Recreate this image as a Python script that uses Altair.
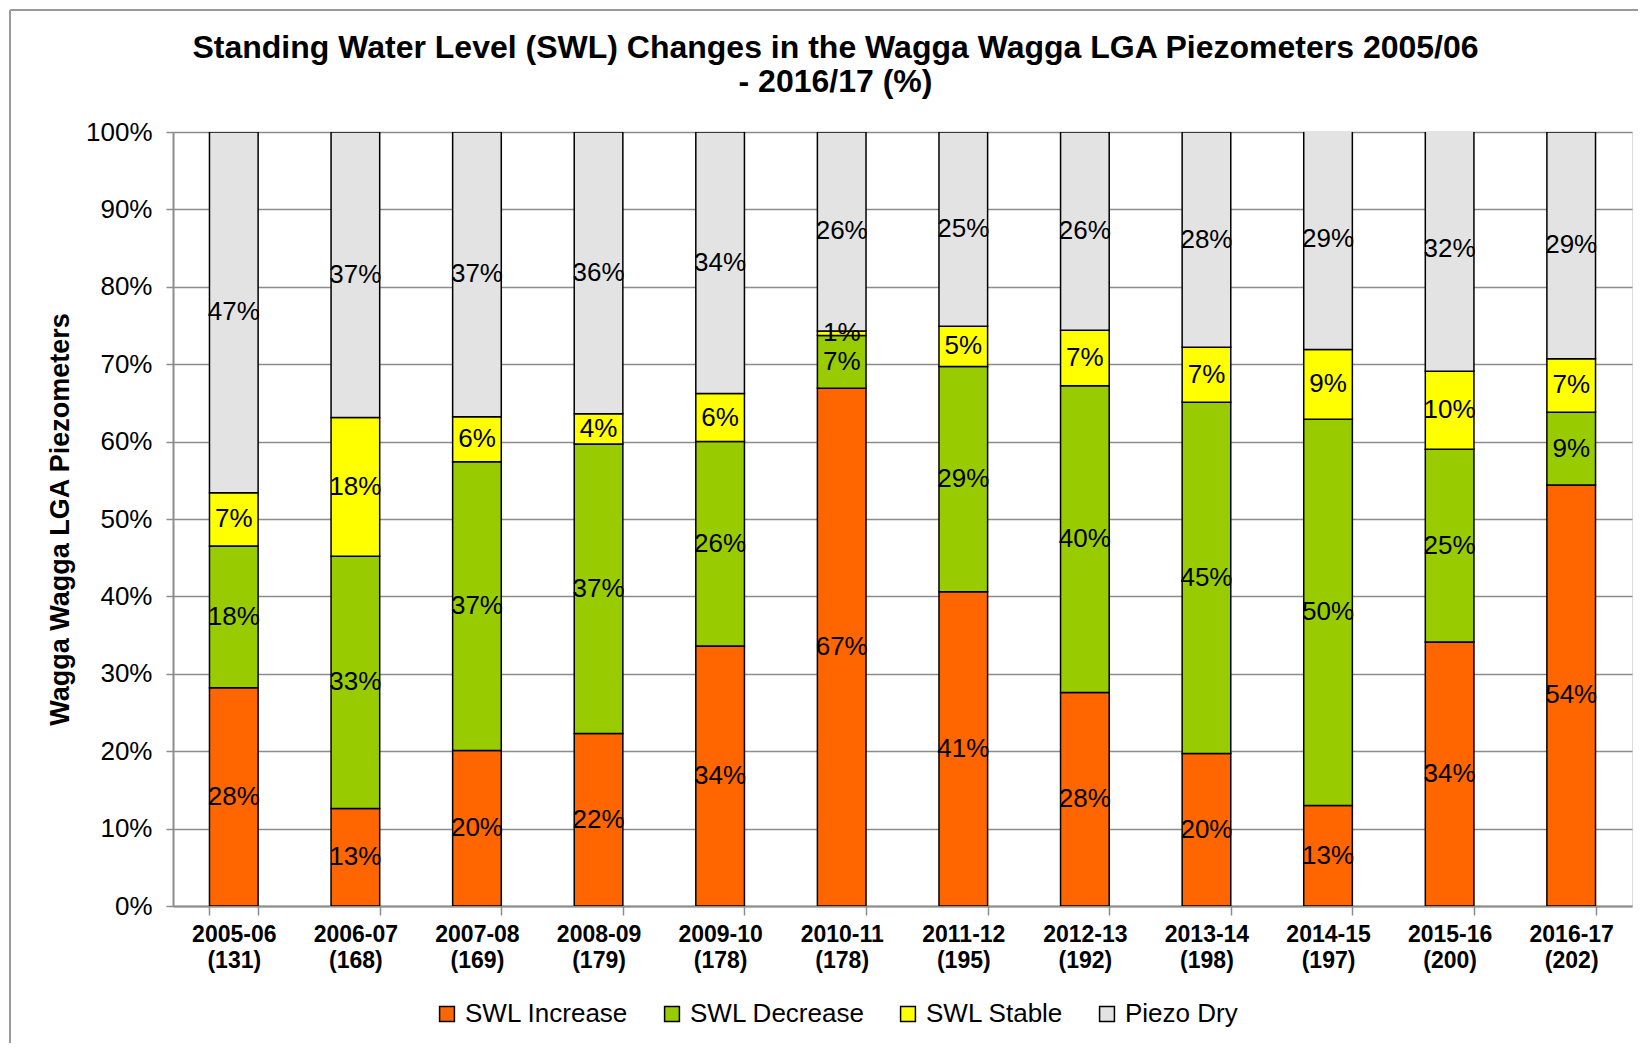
import altair as alt
import pandas as pd

cats = ["2005-06", "2006-07", "2007-08", "2008-09", "2009-10", "2010-11",
        "2011-12", "2012-13", "2013-14", "2014-15", "2015-16", "2016-17"]
counts = [131, 168, 169, 179, 178, 178, 195, 192, 198, 197, 200, 202]

series = ["SWL Increase", "SWL Decrease", "SWL Stable", "Piezo Dry"]
colors = ["#FF6600", "#99CC00", "#FFFF00", "#E3E3E3"]

swl_increase = [28.2, 12.6, 20.1, 22.3, 33.6, 66.9, 40.6, 27.6, 19.7, 13.0, 34.1, 54.4]
swl_decrease = [18.3, 32.6, 37.3, 37.4, 26.4, 6.8, 29.1, 39.6, 45.4, 49.9, 24.9, 9.4]
swl_stable = [6.9, 17.9, 5.8, 3.9, 6.2, 0.6, 5.2, 7.2, 7.1, 9.0, 10.1, 6.9]
piezo_dry = [46.6, 36.9, 36.8, 36.4, 33.8, 25.7, 25.1, 25.6, 27.8, 28.6, 31.6, 29.3]

vals = [swl_increase, swl_decrease, swl_stable, piezo_dry]
labels = [f"{c} ({n})" for c, n in zip(cats, counts)]

rows = []
for si, s in enumerate(series):
    for ci, lab in enumerate(labels):
        rows.append({"cat": lab, "series": s, "ord": si, "value": vals[si][ci]})
df = pd.DataFrame(rows)

FONT = "Liberation Sans"
W, H = 1459, 774

base = alt.Chart(df).transform_stack(
    stack="value", groupby=["cat"], as_=["y0", "y1"],
    sort=[alt.SortField("ord", order="ascending")]
).transform_calculate(
    mid="(datum.y0 + datum.y1) / 2",
    lbl="format(datum.value, '.0f') + '%'"
)

xenc = alt.X("cat:N", sort=labels,
             scale=alt.Scale(paddingInner=0.6, paddingOuter=0.3),
             axis=alt.Axis(title=None, labelAngle=0, labelFont=FONT, labelFontSize=23,
                           labelFontWeight="bold", labelColor="black",
                           labelExpr="split(datum.label, ' ')", labelLineHeight=26,
                           labelPadding=8, tickBand="extent", tickColor="#8c8c8c",
                           tickSize=9, tickWidth=1.5, domainColor="#8c8c8c",
                           domainWidth=2, grid=False))

yscale = alt.Scale(domain=[0, 100], nice=False)

bars = base.mark_bar(stroke="black", strokeWidth=1.5, clip=True).encode(
    x=xenc,
    y=alt.Y("y0:Q", scale=yscale,
            axis=alt.Axis(title="Wagga Wagga LGA Piezometers", values=list(range(0, 101, 10)),
                          labelExpr="datum.value + '%'", labelFont=FONT, labelFontSize=26,
                          labelColor="black", labelPadding=14, tickSize=7,
                          tickColor="#8c8c8c", tickWidth=1.5, domainColor="#8c8c8c",
                          domainWidth=2, gridColor="#8c8c8c", gridWidth=1.5,
                          titleFont=FONT, titleFontSize=27, titleFontWeight="bold",
                          titleColor="black", titlePadding=11)),
    y2="y1:Q",
    color=alt.Color("series:N", scale=alt.Scale(domain=series, range=colors),
                    legend=alt.Legend(title=None, orient="none", direction="horizontal",
                                      legendX=261, legendY=869, symbolType="square",
                                      symbolSize=220, symbolStrokeColor="black",
                                      symbolStrokeWidth=1.5, symbolOpacity=1,
                                      labelFont=FONT, labelFontSize=26, labelColor="black",
                                      labelLimit=400, columnPadding=30, labelOffset=5)),
    order=alt.Order("ord:Q"),
)

text = base.mark_text(font=FONT, fontSize=26, color="black", baseline="middle",
                      align="center").encode(
    x=alt.X("cat:N", sort=labels),
    y=alt.Y("mid:Q", scale=yscale),
    text="lbl:N",
)

frame_top = alt.Chart(df).mark_rule(color="#9a9a9a", strokeWidth=2).encode(
    x=alt.value(-163), x2=alt.value(W + 20), y=alt.value(-122))
frame_left = alt.Chart(df).mark_rule(color="#9a9a9a", strokeWidth=2).encode(
    x=alt.value(-163), y=alt.value(-122), y2=alt.value(H + 160))

chart = alt.layer(bars, text, frame_top, frame_left).properties(
    width=W, height=H,
    autosize=alt.AutoSizeParams(type="none"),
    padding={"left": 165, "top": 124, "right": 6, "bottom": 137},
    title=alt.TitleParams(
        text=["Standing Water Level (SWL) Changes in the Wagga Wagga LGA Piezometers 2005/06",
              "- 2016/17 (%)"],
        font=FONT, fontSize=32, fontWeight="bold", color="black", anchor="middle",
        dx=-67, offset=-90, lineHeight=34),
).configure_view(stroke=None).configure(background="white")

chart.save("out.html", embed_options={"renderer": "svg", "actions": False})
